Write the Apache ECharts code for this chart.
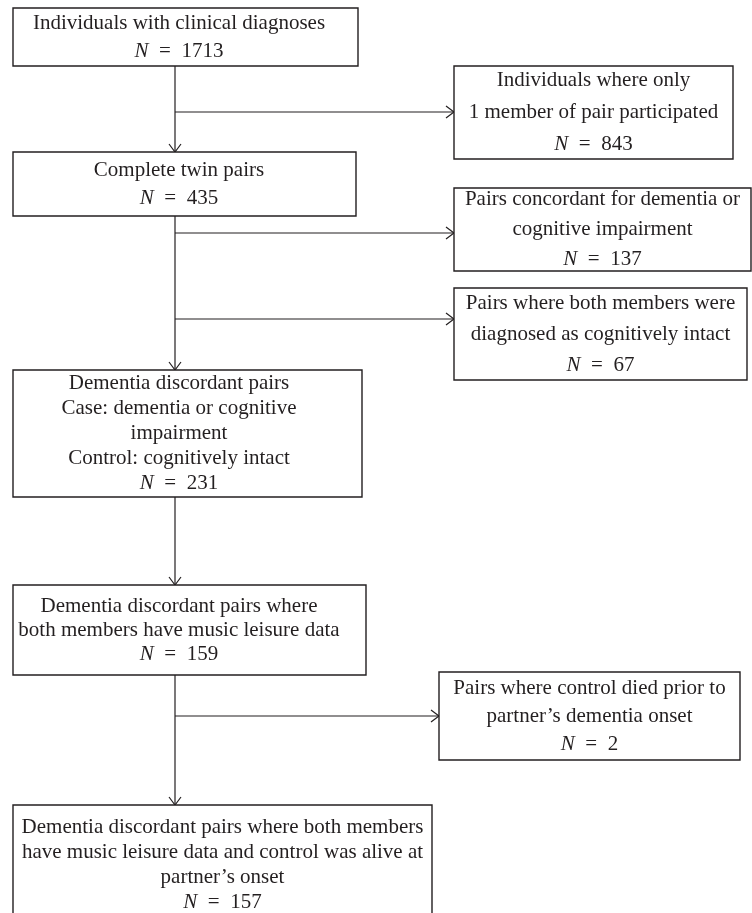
<!DOCTYPE html>
<html>
<head>
<meta charset="utf-8">
<script src="https://cdn.jsdelivr.net/npm/echarts@6/dist/echarts.min.js"></script>
<style>
  html, body { margin: 0; padding: 0; background: #fff; }
  #main { width: 752px; height: 913px; }
</style>
</head>
<body>
<div id="main"></div>
<script>
// flowchart: text + counts
var boxTitles = [
    'Individuals with clinical diagnoses',
    'Individuals where only\n1 member of pair participated',
    'Complete twin pairs',
    'Pairs concordant for dementia or\ncognitive impairment',
    'Pairs where both members were\ndiagnosed as cognitively intact',
    'Dementia discordant pairs\nCase: dementia or cognitive\nimpairment\nControl: cognitively intact',
    'Dementia discordant pairs where\nboth members have music leisure data',
    'Pairs where control died prior to\npartner\u2019s dementia onset',
    'Dementia discordant pairs where both members\nhave music leisure data and control was alive at\npartner\u2019s onset'
];
var boxCounts = [1713, 843, 435, 137, 67, 231, 159, 2, 157];

// layout (page pixels): x0, y0, x1, y1, line height, text centre x
var boxLayout = [
    [13, 8, 358, 66, 28, 179],
    [454, 66, 733, 159, 32, null],
    [13, 152, 356, 216, 28, 179],
    [454, 188, 751, 271, 30, null],
    [454, 288, 747, 380, 31, null],
    [13, 370, 362, 497, 25, 179],
    [13, 585, 366, 675, 24, 179],
    [439, 672, 740, 760, 28, null],
    [13, 805, 432, 925, 25, null]
];

// connectors: from -> to (arrow at the end)
var linkLayout = [
    [175, 66, 175, 152],
    [175, 112, 454, 112],
    [175, 216, 175, 370],
    [175, 233, 454, 233],
    [175, 319, 454, 319],
    [175, 497, 175, 585],
    [175, 675, 175, 805],
    [175, 716, 439, 716]
];

var ink = '#231f20';
var serif = '"Liberation Serif", "DejaVu Serif", serif';

var myChart = echarts.init(document.getElementById('main'));

var option = {
    backgroundColor: '#fff',
    animation: false,
    grid: { left: 0, right: 0, top: 0, bottom: 0 },
    xAxis: { type: 'value', min: 0, max: 752, show: false },
    yAxis: { type: 'value', min: 0, max: 913, inverse: true, show: false },
    series: [
        {
            // arrows
            type: 'custom',
            clip: false,
            data: linkLayout,
            encode: { x: [0, 2], y: [1, 3] },
            renderItem: function (params, api) {
                var a = api.coord([api.value(0), api.value(1)]);
                var b = api.coord([api.value(2), api.value(3)]);
                var dx = b[0] - a[0], dy = b[1] - a[1];
                var len = Math.sqrt(dx * dx + dy * dy);
                var ux = dx / len, uy = dy / len;
                var L = 8, W = 6;
                var head = [
                    [b[0] - ux * L - uy * W, b[1] - uy * L + ux * W],
                    [b[0], b[1]],
                    [b[0] - ux * L + uy * W, b[1] - uy * L - ux * W]
                ];
                var st = { stroke: ink, lineWidth: 1.2, fill: null };
                return {
                    type: 'group',
                    children: [
                        { type: 'polyline', shape: { points: [a, b] }, style: st },
                        { type: 'polyline', shape: { points: head }, style: st }
                    ]
                };
            },
            z: 1
        },
        {
            // boxes
            type: 'custom',
            clip: false,
            data: boxLayout.map(function (b) { return [b[0], b[1], b[2], b[3]]; }),
            encode: { x: [0, 2], y: [1, 3] },
            renderItem: function (params, api) {
                var i = params.dataIndex;
                var lay = boxLayout[i];
                var p0 = api.coord([api.value(0), api.value(1)]);
                var p1 = api.coord([api.value(2), api.value(3)]);
                var cx = lay[5] != null ? api.coord([lay[5], 0])[0] : (p0[0] + p1[0]) / 2;
                var cy = (p0[1] + p1[1]) / 2;
                var lh = lay[4];
                return {
                    type: 'group',
                    children: [
                        {
                            type: 'rect',
                            shape: { x: p0[0], y: p0[1], width: p1[0] - p0[0], height: p1[1] - p0[1] },
                            style: { fill: '#fff', stroke: ink, lineWidth: 1.4 }
                        },
                        {
                            type: 'text',
                            x: cx,
                            y: cy,
                            style: {
                                text: boxTitles[i] + '\n{i|N}\u2002=\u2002' + boxCounts[i],
                                align: 'center',
                                verticalAlign: 'middle',
                                fill: ink,
                                fontFamily: serif,
                                fontSize: 21,
                                lineHeight: lh,
                                rich: {
                                    i: { fontStyle: 'italic', fontFamily: serif, fontSize: 21, lineHeight: lh, fill: ink }
                                }
                            }
                        }
                    ]
                };
            },
            z: 2
        }
    ]
};

myChart.setOption(option);
</script>
</body>
</html>
